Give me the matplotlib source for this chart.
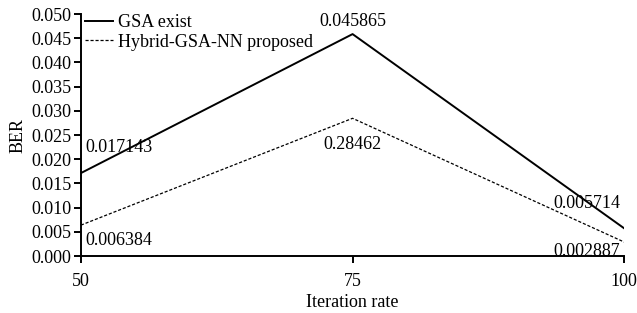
import matplotlib
matplotlib.use('Agg')
import matplotlib.pyplot as plt

iteration_rate = [50, 75, 100]
gsa_exist = [0.017143, 0.045865, 0.005714]
hybrid_gsa_nn = [0.006384, 0.028462, 0.002887]
gsa_labels = ['0.017143', '0.045865', '0.005714']
hybrid_labels = ['0.006384', '0.28462', '0.002887']
y_ticks = [0.000, 0.005, 0.010, 0.015, 0.020, 0.025, 0.030, 0.035, 0.040, 0.045, 0.050]

plt.rcParams['font.family'] = ['Liberation Serif', 'DejaVu Serif']
plt.rcParams['font.size'] = 13

fig = plt.figure(figsize=(6.37, 3.13), dpi=100)
ax = fig.add_axes([0.127, 0.182, 0.853, 0.773])

ax.plot(iteration_rate, gsa_exist, color='black', linewidth=1.4, label='GSA exist')
ax.plot(iteration_rate, hybrid_gsa_nn, color='black', linewidth=0.9, linestyle=(0, (2.5, 1.5)),
        label='Hybrid-GSA-NN proposed')

# value labels
ax.annotate(gsa_labels[0], (iteration_rate[0], gsa_exist[0]), xytext=(3, 12),
            textcoords='offset points', ha='left', va='bottom')
ax.annotate(gsa_labels[1], (iteration_rate[1], gsa_exist[1]), xytext=(0, 3),
            textcoords='offset points', ha='center', va='bottom')
ax.annotate(gsa_labels[2], (iteration_rate[2], gsa_exist[2]), xytext=(-3, 12),
            textcoords='offset points', ha='right', va='bottom')
ax.annotate(hybrid_labels[0], (iteration_rate[0], hybrid_gsa_nn[0]), xytext=(3, -5),
            textcoords='offset points', ha='left', va='top')
ax.annotate(hybrid_labels[1], (iteration_rate[1], hybrid_gsa_nn[1]), xytext=(0, -13),
            textcoords='offset points', ha='center', va='top')
ax.annotate(hybrid_labels[2], (iteration_rate[2], hybrid_gsa_nn[2]), xytext=(-3, -1),
            textcoords='offset points', ha='right', va='top')

ax.set_xlim(50, 100)
ax.set_ylim(0, 0.05)
ax.set_xticks(iteration_rate)
ax.set_yticks(y_ticks)
ax.set_yticklabels(['%.3f' % t for t in y_ticks])

for s in ['top', 'right']:
    ax.spines[s].set_visible(False)
for s in ['left', 'bottom']:
    ax.spines[s].set_linewidth(1.4)
ax.tick_params(direction='out', length=5, width=1.4, labelsize=13)
ax.tick_params(axis='x', pad=7)
ax.tick_params(axis='y', pad=2)

ax.set_xlabel('Iteration rate', fontsize=13, labelpad=3)
ax.set_ylabel('BER', fontsize=13, labelpad=3)

ax.legend(loc='upper left', bbox_to_anchor=(0.0, 1.015), frameon=False, handlelength=1.6,
          handletextpad=0.25, borderaxespad=0.0, borderpad=0.2, labelspacing=0.15, fontsize=13)

fig.savefig('out.png', dpi=100)
